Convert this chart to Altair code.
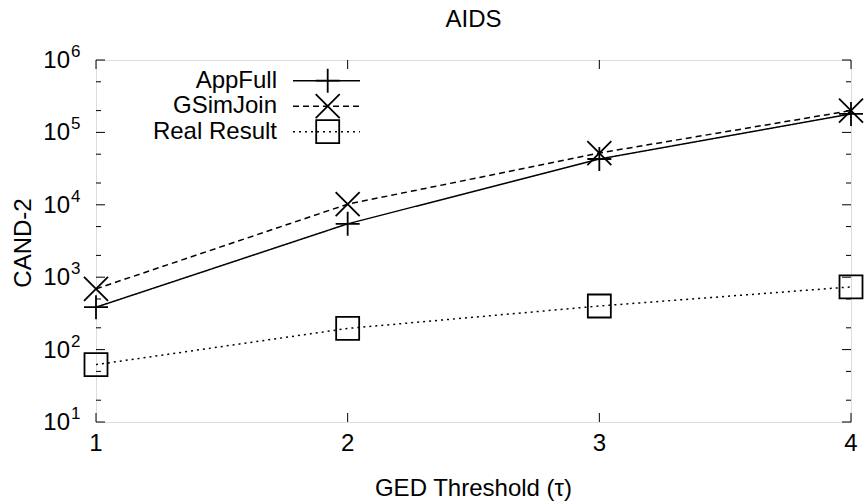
import altair as alt
import pandas as pd

# ---- data ----
tau = [1, 2, 3, 4]
appfull = [385, 5460, 42900, 180000]
gsimjoin = [690, 10200, 51900, 200000]
real_result = [62, 196, 400, 735]
series_names = ["AppFull", "GSimJoin", "Real Result"]
x_ticks = [1, 2, 3, 4]
y_major_exp = [1, 2, 3, 4, 5, 6]
y_minor = [20, 50, 200, 500, 2000, 5000, 20000, 50000, 200000, 500000]

W, H = 755, 362
FONT = "Liberation Sans"
FS = 24

xs = alt.Scale(domain=[1, 4], nice=False, zero=False)
ys = alt.Scale(type="log", domain=[10, 1e6], nice=False)

PLUS = "M-1,0L1,0M0,-1L0,1"
XSHAPE = "M-1,-1L1,1M-1,1L1,-1"
styles = {
    "AppFull": dict(dash=[1, 0], shape=PLUS, size=576),
    "GSimJoin": dict(dash=[6, 4], shape=XSHAPE, size=576),
    "Real Result": dict(dash=[2, 4], shape="square", size=529),
}
values = {"AppFull": appfull, "GSimJoin": gsimjoin, "Real Result": real_result}

layers = []

# ticks
maj = pd.DataFrame({"v": [10.0 ** e for e in y_major_exp], "e": [str(e) for e in y_major_exp]})
mnr = pd.DataFrame({"v": y_minor})
xt = pd.DataFrame({"t": x_ticks})
for df, ln in [(maj, 9), (mnr, 5)]:
    layers.append(alt.Chart(df).mark_rule(color="black", strokeWidth=1).encode(
        y=alt.Y("v:Q", scale=ys, axis=None), x=alt.value(0), x2=alt.value(ln)))
    layers.append(alt.Chart(df).mark_rule(color="black", strokeWidth=1).encode(
        y=alt.Y("v:Q", scale=ys, axis=None), x=alt.value(W - ln), x2=alt.value(W)))
layers.append(alt.Chart(xt).mark_rule(color="black", strokeWidth=1).encode(
    x=alt.X("t:Q", scale=xs, axis=None), y=alt.value(H), y2=alt.value(H - 9)))
layers.append(alt.Chart(xt).mark_rule(color="black", strokeWidth=1).encode(
    x=alt.X("t:Q", scale=xs, axis=None), y=alt.value(0), y2=alt.value(9)))

# tick labels
layers.append(alt.Chart(maj).mark_text(align="right", baseline="middle", font=FONT, fontSize=FS, dy=1, color="black").encode(
    y=alt.Y("v:Q", scale=ys, axis=None), x=alt.value(-26), text=alt.value("10")))
layers.append(alt.Chart(maj).mark_text(align="left", baseline="middle", font=FONT, fontSize=17, dy=-8, color="black").encode(
    y=alt.Y("v:Q", scale=ys, axis=None), x=alt.value(-25), text="e:N"))
layers.append(alt.Chart(xt).mark_text(align="center", baseline="middle", font=FONT, fontSize=FS, color="black").encode(
    x=alt.X("t:Q", scale=xs, axis=None), y=alt.value(H + 22), text="t:Q"))

one = pd.DataFrame({"a": [0]})
layers.append(alt.Chart(one).mark_text(align="center", baseline="middle", font=FONT, fontSize=FS, color="black").encode(
    x=alt.value(W / 2), y=alt.value(H + 67), text=alt.value("GED Threshold (τ)")))
layers.append(alt.Chart(one).mark_text(align="center", baseline="middle", font=FONT, fontSize=FS, angle=270, color="black").encode(
    x=alt.value(-72), y=alt.value(H / 2 + 2), text=alt.value("CAND-2")))
layers.append(alt.Chart(one).mark_text(align="center", baseline="middle", font=FONT, fontSize=FS, color="black").encode(
    x=alt.value(W / 2), y=alt.value(-40), text=alt.value("AIDS")))

# series
for i, name in enumerate(series_names):
    st = styles[name]
    df = pd.DataFrame({"tau": tau, "val": values[name]})
    layers.append(alt.Chart(df).mark_line(color="black", strokeWidth=1.5, strokeDash=st["dash"]).encode(
        x=alt.X("tau:Q", scale=xs, axis=None), y=alt.Y("val:Q", scale=ys, axis=None)))
    layers.append(alt.Chart(df).mark_point(shape=st["shape"], size=st["size"], filled=False, color="black",
                                           strokeWidth=1.8, opacity=1).encode(
        x=alt.X("tau:Q", scale=xs, axis=None), y=alt.Y("val:Q", scale=ys, axis=None)))
    # legend
    ly = 20.7 + i * 25.5
    layers.append(alt.Chart(one).mark_text(align="right", baseline="middle", font=FONT, fontSize=FS, color="black").encode(
        x=alt.value(181), y=alt.value(ly), text=alt.value(name)))
    layers.append(alt.Chart(one).mark_rule(color="black", strokeWidth=1.5, strokeDash=st["dash"]).encode(
        x=alt.value(197), x2=alt.value(264), y=alt.value(ly)))
    layers.append(alt.Chart(one).mark_point(shape=st["shape"], size=st["size"], filled=False, color="black",
                                            strokeWidth=1.8, opacity=1).encode(
        x=alt.value(231.7), y=alt.value(ly)))

chart = alt.layer(*layers).properties(
    width=W, height=H,
    autosize=alt.AutoSizeParams(type="none"),
    padding={"left": 96, "top": 60, "right": 14, "bottom": 80},
).configure_view(stroke="black", strokeWidth=1.3).configure(background="white")

chart.save("out.html", embed_options={"renderer": "svg", "actions": False})
